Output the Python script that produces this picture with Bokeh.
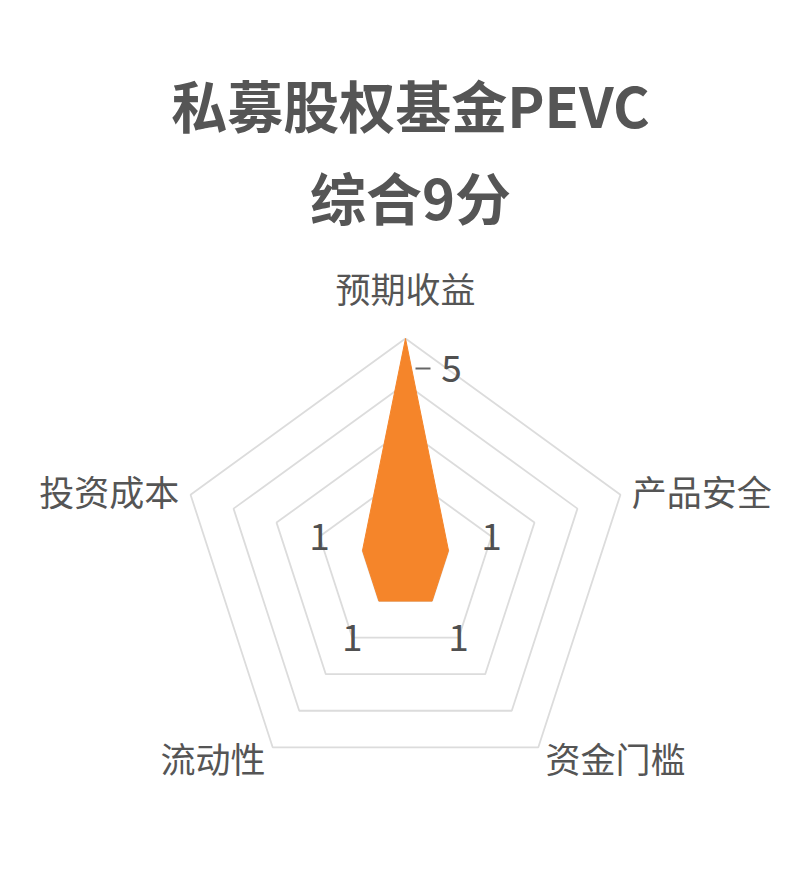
import numpy as np
from bokeh.plotting import figure
from bokeh.models import Range1d, Label
from bokeh.core.properties import value
from bokeh.embed import file_html
from bokeh.resources import INLINE

# chart content
title_lines = ["私募股权基金PEVC", "综合9分"]
indicators = ["预期收益", "产品安全", "资金门槛", "流动性", "投资成本"]
scores = [5, 1, 1, 1, 1]
max_score = 5
ring_levels = [1, 2, 3, 4, 5]

W, H = 778, 876
PX = 45.2            # pixels per score unit
CX, CY = 405, 564    # radar centre, px from the canvas top-left
FONT = "Noto Sans CJK SC"
FILL = "#F5852A"


def to_data(x_px, y_px):
    return (x_px - CX) / PX, (CY - y_px) / PX


n = len(indicators)
angles = np.pi / 2 - 2 * np.pi * np.arange(n) / n
cos_a, sin_a = np.cos(angles), np.sin(angles)

p = figure(width=W, height=H, output_backend="svg", toolbar_location=None,
           x_range=Range1d(-CX / PX, (W - CX) / PX),
           y_range=Range1d(-(H - CY) / PX, CY / PX),
           x_axis_type=None, y_axis_type=None, min_border=0)
p.grid.visible = False
p.outline_line_color = None
p.background_fill_color = "white"
p.border_fill_color = "white"

# split rings
ring_xs = [list(r * cos_a) + [r * cos_a[0]] for r in ring_levels]
ring_ys = [list(r * sin_a) + [r * sin_a[0]] for r in ring_levels]
p.multi_line(ring_xs, ring_ys, line_color="#dcdcdc", line_width=1.8)

# data area
sc = np.array(scores, dtype=float)
p.patch(sc * cos_a, sc * sin_a, fill_color=FILL, line_color=FILL, line_width=1)

# indicator names
name_r = max_score + 12 / PX
for i, name in enumerate(indicators):
    c, s = cos_a[i], sin_a[i]
    if s > 0.9:
        x, y, align = name_r * c, (max_score * PX + 51) / PX, "center"
    else:
        x, y = name_r * c, name_r * s
        align = "left" if c > 0 else "right"
    p.text([x], [y], text=[name], text_align=align, text_baseline="middle",
           text_font=value(FONT), text_font_size="35px", text_color="#555555")

# value labels
for i, v in enumerate(scores):
    c, s = cos_a[i], sin_a[i]
    if v < max_score:
        lx, ly = (v + 1) * c, (v + 1) * s
    else:
        # peak value: label set beside the point with a short leader
        px0, py0 = v * c, v * s
        lx, ly = px0 + 46 / PX, py0 - 30 / PX
        p.line([px0 + 10 / PX, px0 + 25 / PX], [ly, ly],
               line_color="#666666", line_width=2)
    p.text([lx], [ly], text=[str(v)], text_align="center", text_baseline="middle",
           text_font=value(FONT), text_font_size="37px", text_color="#505050")

# title
for txt, y_px in zip(title_lines, [103, 195]):
    tx, ty = to_data(410, y_px)
    p.add_layout(Label(x=tx, y=ty, text=txt, text_align="center",
                       text_baseline="middle", text_font=FONT,
                       text_font_size="56px", text_font_style="bold",
                       text_color="#555555"))

open("out.html", "w").write(file_html(p, INLINE))
